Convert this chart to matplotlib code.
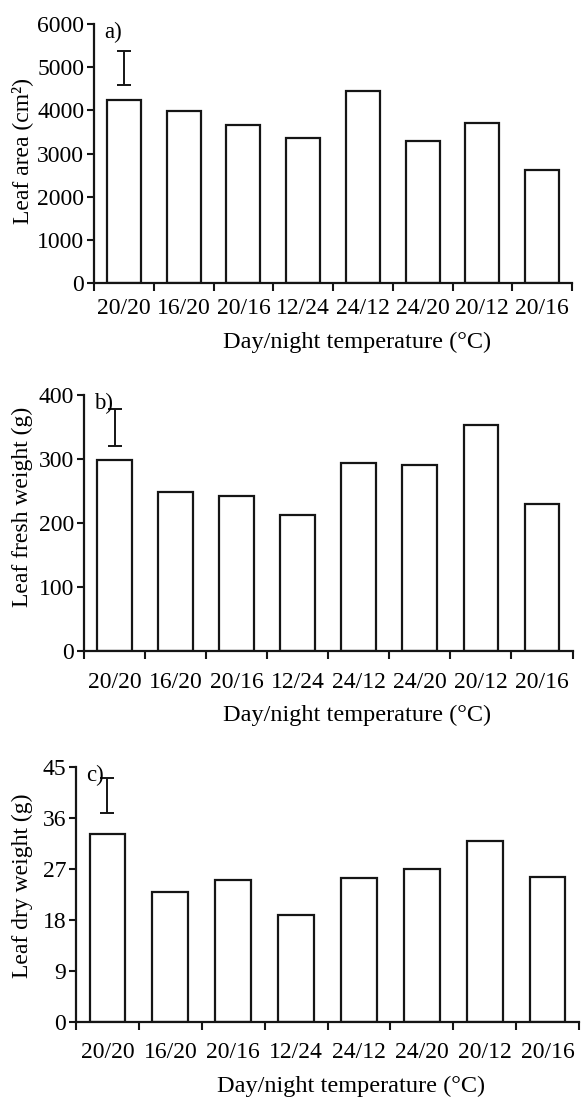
import matplotlib
matplotlib.use("Agg")
import matplotlib.pyplot as plt
import matplotlib.transforms as mtransforms
import numpy as np

categories = ["20/20", "16/20", "20/16", "12/24", "24/12", "24/20", "20/12", "20/16"]

leaf_area = [4250, 3980, 3670, 3365, 4445, 3300, 3700, 2620]
leaf_fresh = [298, 248, 242, 213, 293, 290, 353, 230]
leaf_dry = [33.1, 22.9, 25.0, 18.9, 25.4, 27.0, 32.0, 25.6]

err_a = (4980, 400)
err_b = (349, 29)
err_c = (40.0, 3.05)

yticks_a = [0, 1000, 2000, 3000, 4000, 5000, 6000]
yticks_b = [0, 100, 200, 300, 400]
yticks_c = [0, 9, 18, 27, 36, 45]

W, H = 581, 1103
plt.rcParams['font.family'] = ['Liberation Serif', 'DejaVu Serif']
fig = plt.figure(figsize=(W / 100, H / 100), dpi=100)

INK = "#151515"
panels = [
    dict(vals=leaf_area, err=err_a, yt=yticks_a, ylabel="Leaf area (cm²)", tag="a)",
         box=(94, 572, 24, 283), xpad=10.8, ylab=(33, 151), xlab=(357, 332)),
    dict(vals=leaf_fresh, err=err_b, yt=yticks_b, ylabel="Leaf fresh weight (g)", tag="b)",
         box=(84, 572.5, 395, 651), xpad=14.9, ylab=(33, 507), xlab=(357, 705)),
    dict(vals=leaf_dry, err=err_c, yt=yticks_c, ylabel="Leaf dry weight (g)", tag="c)",
         box=(76, 579, 767, 1022), xpad=14.4, ylab=(33, 886), xlab=(351, 1076)),
]

x = np.arange(len(categories))
shift = mtransforms.ScaledTranslation(6 / 100, 0, fig.dpi_scale_trans)
for p in panels:
    l, r, t, b = p["box"]
    ax = fig.add_axes([l / W, 1 - b / H, (r - l) / W, (b - t) / H])
    ax.bar(x, p["vals"], width=0.57, facecolor="white", edgecolor=INK, linewidth=1.6)
    ax.errorbar([0], [p["err"][0]], yerr=[p["err"][1]], fmt="none", ecolor=INK,
                elinewidth=1.4, capsize=5, capthick=1.4)
    ax.set_xlim(-0.5, len(categories) - 0.5)
    ax.set_ylim(p["yt"][0], p["yt"][-1])
    ax.set_yticks(p["yt"])
    ax.set_yticklabels([str(v) for v in p["yt"]])
    ax.set_xticks(x)
    ax.set_xticklabels(categories)
    for lab in ax.get_xticklabels():
        lab.set_transform(lab.get_transform() + shift)
    ax.set_xticks(np.arange(len(categories) + 1) - 0.5, minor=True)
    ax.tick_params(axis="x", which="major", length=0, pad=p["xpad"], labelsize=17)
    ax.tick_params(axis="x", which="minor", length=5.5, width=1.5, direction="out", color=INK)
    ax.tick_params(axis="y", length=5, width=1.5, pad=2, labelsize=17, color=INK)
    for s in ["top", "right"]:
        ax.spines[s].set_visible(False)
    for s in ["left", "bottom"]:
        ax.spines[s].set_linewidth(1.6)
        ax.spines[s].set_color(INK)
    ax.set_ylabel(p["ylabel"], fontsize=17)
    ax.yaxis.set_label_coords(p["ylab"][0] / W, 1 - p["ylab"][1] / H, transform=fig.transFigure)
    ax.set_xlabel("Day/night temperature (°C)", fontsize=17.5)
    ax.xaxis.set_label_coords(p["xlab"][0] / W, 1 - p["xlab"][1] / H, transform=fig.transFigure)
    ax.annotate(p["tag"], xy=(0, 1), xycoords="axes fraction", xytext=(7.2, 1.5),
                textcoords="offset points", fontsize=16.5, va="top", ha="left")

fig.savefig("out.png", dpi=100)
